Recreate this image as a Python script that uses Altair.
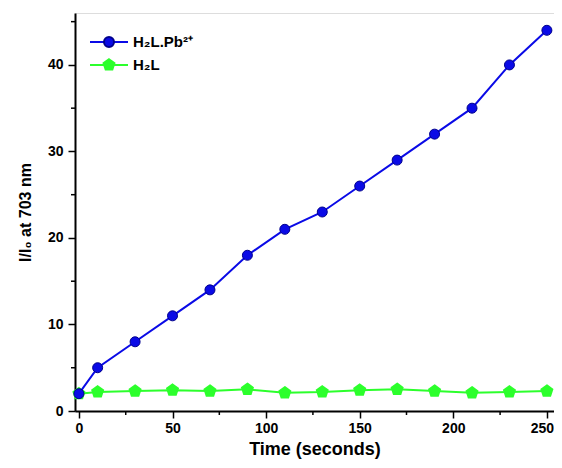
import altair as alt
import pandas as pd

time = [0, 10, 30, 50, 70, 90, 110, 130, 150, 170, 190, 210, 230, 250]
pb_values = [2.0, 5.0, 8.0, 11.0, 14.0, 18.0, 21.0, 23.0, 26.0, 29.0, 32.0, 35.0, 40.0, 44.0]
h2l_values = [2.0, 2.2, 2.3, 2.4, 2.3, 2.5, 2.1, 2.2, 2.4, 2.5, 2.3, 2.1, 2.2, 2.3]
series_names = ["H\u2082L.Pb\u00b2\u207a", "H\u2082L"]
x_major = [0, 50, 100, 150, 200, 250]
x_minor = [25, 75, 125, 175, 225]
y_major = [0, 10, 20, 30, 40]
y_minor = [5, 15, 25, 35, 45]

BLUE = "#0a0ae6"
BLUE_DARK = "#00008c"
GREEN = "#2cff2c"
PENTAGON = "M0,-1 L0.951,-0.309 L0.588,0.809 L-0.588,0.809 L-0.951,-0.309 Z"
FONT = "Liberation Sans"
W = 479
H = 398

df_pb = pd.DataFrame({"t": time, "v": pb_values})
df_h = pd.DataFrame({"t": time, "v": h2l_values})

xs = alt.Scale(domain=[-2.1, 253.8], nice=False, zero=False)
ys = alt.Scale(domain=[0, 46], nice=False)

x_axis = alt.Axis(values=x_major, title="Time (seconds)", labelFont=FONT, labelFontSize=14,
                  labelFontWeight="bold", titleFont=FONT, titleFontSize=18, titleFontWeight="bold",
                  tickSize=7, tickWidth=1.5, tickColor="black", domainColor="black", domainWidth=2,
                  labelColor="black", titleColor="black", grid=False, titlePadding=5, labelPadding=3,
                  labelOffset=alt.ExprRef("datum.value == 250 ? -5 : 0"))
y_axis = alt.Axis(values=y_major, title="I/I\u2080 at 703 nm", labelFont=FONT, labelFontSize=14,
                  labelFontWeight="bold", titleFont=FONT, titleFontSize=16, titleFontWeight="bold",
                  tickSize=7, tickWidth=1.5, tickColor="black", domainColor="black", domainWidth=2,
                  labelColor="black", titleColor="black", grid=False, titlePadding=14, labelPadding=5)

pb_line = alt.Chart(df_pb).mark_line(color=BLUE, strokeWidth=2).encode(
    x=alt.X("t:Q", scale=xs, axis=x_axis), y=alt.Y("v:Q", scale=ys, axis=y_axis))
pb_pts = alt.Chart(df_pb).mark_point(shape="circle", filled=True, fill=BLUE, stroke=BLUE_DARK,
                                     strokeWidth=1, size=100, opacity=1).encode(
    x=alt.X("t:Q", scale=xs), y=alt.Y("v:Q", scale=ys))
h_line = alt.Chart(df_h).mark_line(color=GREEN, strokeWidth=2).encode(
    x=alt.X("t:Q", scale=xs), y=alt.Y("v:Q", scale=ys))
h_pts = alt.Chart(df_h).mark_point(shape=PENTAGON, filled=True, fill=GREEN, stroke=GREEN,
                                   size=130, opacity=1).encode(
    x=alt.X("t:Q", scale=xs), y=alt.Y("v:Q", scale=ys))

# minor ticks
xm = alt.Chart(pd.DataFrame({"t": x_minor})).mark_rule(color="black", strokeWidth=1.5).encode(
    x=alt.X("t:Q", scale=xs), y=alt.value(H), y2=alt.value(H + 4))
ym = alt.Chart(pd.DataFrame({"v": y_minor})).mark_rule(color="black", strokeWidth=1.5).encode(
    y=alt.Y("v:Q", scale=ys), x=alt.value(-4), x2=alt.value(0))

legend_df = pd.DataFrame({"name": series_names})

def legend_entry(idx, color, shape, size, stroke):
    d = legend_df.iloc[[idx]]
    yy = 29 + idx * 23
    ln = alt.Chart(d).mark_rule(color=color, strokeWidth=2).encode(
        x=alt.value(15), x2=alt.value(53), y=alt.value(yy))
    pt = alt.Chart(d).mark_point(shape=shape, filled=True, fill=color, stroke=stroke, size=size,
                                 opacity=1).encode(x=alt.value(34), y=alt.value(yy))
    tx = alt.Chart(d).mark_text(align="left", baseline="middle", font=FONT, fontSize=15,
                                fontWeight="bold", color="black").encode(
        x=alt.value(58), y=alt.value(yy), text="name:N")
    return [ln, pt, tx]

layers = [h_line, h_pts, pb_line, pb_pts, xm, ym]
layers += legend_entry(0, BLUE, "circle", 100, BLUE_DARK)
layers += legend_entry(1, GREEN, PENTAGON, 130, GREEN)

chart = alt.layer(*layers).properties(
    width=W, height=H,
    autosize=alt.AutoSizeParams(type="none"),
    padding={"left": 67, "top": 5, "right": 0, "bottom": 49},
).configure_view(stroke="black", strokeWidth=2).configure(background="white")

chart.save("out.html", embed_options={"renderer": "svg", "actions": False})
